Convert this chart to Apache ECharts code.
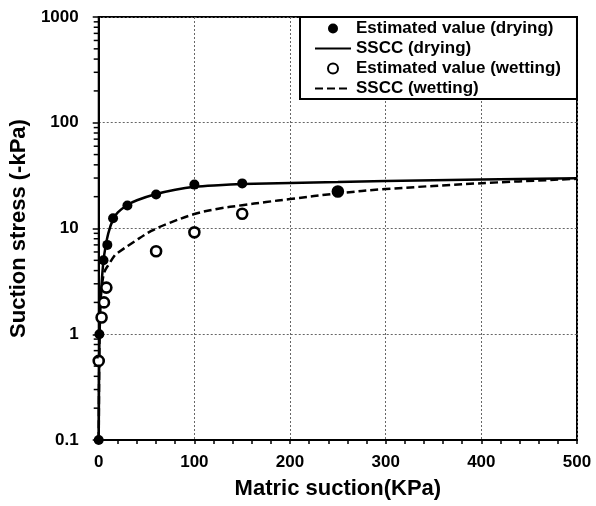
<!DOCTYPE html>
<html>
<head>
<meta charset="utf-8">
<script src="https://cdn.jsdelivr.net/npm/echarts@6/dist/echarts.min.js"></script>
<style>html,body{margin:0;padding:0;background:#fff;}#chart{width:596px;height:506px;}</style>
</head>
<body>
<div id="chart"></div>
<script>
// Estimated values (drying) [matric suction, suction stress]
const dryingX = [0, 0.7, 5, 9, 15, 30, 60, 100, 150, 250];
const dryingY = [0.1, 1.0, 5.0, 7.0, 12.5, 16.5, 21.0, 26.0, 26.7, 22.4];
// Estimated values (wetting)
const wettingX = [0, 3, 5.5, 8, 60, 100, 150, 250];
const wettingY = [0.56, 1.44, 2.0, 2.76, 6.1, 9.2, 13.8, 22.4];
// SSCC (drying) curve samples
const ssccDryX = [0, 0.5, 1, 2, 3, 5, 7, 10, 15, 20, 30, 40, 60, 80, 100, 125, 150, 200, 250, 300, 400, 500];
const ssccDryY = [0.1, 0.6, 1.1, 2.0, 3.0, 5.0, 6.6, 9.0, 12.2, 14.2, 16.7, 18.5, 21.2, 23.3, 24.8, 25.7, 26.3, 27.0, 27.5, 28.1, 29.1, 29.9];
// SSCC (wetting) curve samples
const ssccWetX = [0, 0.5, 1, 2, 4, 6, 10, 17, 20, 37, 55, 73, 100, 125, 150, 175, 200, 250, 300, 400, 500];
const ssccWetY = [0.1, 0.5, 1.2, 2.2, 3.2, 3.9, 4.5, 5.6, 5.9, 7.5, 9.5, 11.2, 13.7, 15.4, 16.6, 17.8, 19.0, 21.5, 23.6, 26.8, 29.5];
// Tick labels / minor ticks of log y-axis
const yTicks = [0.1, 1, 10, 100, 1000];
const yMinorTicks = [0.2,0.3,0.4,0.5,0.6,0.7,0.8,0.9, 2,3,4,5,6,7,8,9, 20,30,40,50,60,70,80,90, 200,300,400,500,600,700,800,900];
const legendNames = ['Estimated value (drying)', 'SSCC (drying)', 'Estimated value (wetting)', 'SSCC (wetting)'];

const zip = (xs, ys) => xs.map((x, i) => [x, ys[i]]);
const FONT = '"Liberation Sans", Arial, sans-serif';

const chart = echarts.init(document.getElementById('chart'), null, {renderer: 'canvas'});
const gridLine = {show: true, lineStyle: {color: '#666', width: 1, type: [2, 2]}};
const hiddenSym = {color: 'rgba(0,0,0,0)', borderColor: 'rgba(0,0,0,0)', borderWidth: 0};

chart.setOption({
  animation: false,
  backgroundColor: '#fff',
  textStyle: {fontFamily: FONT},
  grid: {left: 97, right: 19, top: 17, bottom: 66, show: true, borderColor: '#000', borderWidth: 2, containLabel: false},
  legend: {
    data: [
      {name: legendNames[0]},
      {name: legendNames[1], itemStyle: hiddenSym},
      {name: legendNames[2]},
      {name: legendNames[3], itemStyle: hiddenSym}
    ],
    orient: 'vertical',
    left: 300, top: 17,
    align: 'left',
    itemWidth: 36, itemHeight: 10, itemGap: 3,
    padding: [3, 16, 2, 14],
    borderColor: '#000', borderWidth: 2,
    backgroundColor: '#fff',
    textStyle: {fontFamily: FONT, fontWeight: 'bold', fontSize: 17, color: '#000'}
  },
  xAxis: {
    type: 'value', min: 0, max: 500, interval: 100,
    name: 'Matric suction(KPa)', nameLocation: 'middle', nameGap: 38,
    nameTextStyle: {fontFamily: FONT, fontWeight: 'bold', fontSize: 22, color: '#000'},
    axisLine: {show: true, lineStyle: {color: '#000', width: 2}},
    axisTick: {show: true, length: 4, lineStyle: {color: '#000', width: 1.5}},
    minorTick: {show: true, splitNumber: 5, length: 4, lineStyle: {color: '#000', width: 1.5}},
    axisLabel: {margin: 14, fontFamily: FONT, fontWeight: 'bold', fontSize: 17, color: '#000'},
    splitLine: gridLine
  },
  yAxis: {
    type: 'log', logBase: 10, min: 0.1, max: 1000,
    name: 'Suction stress (-kPa)', nameLocation: 'middle', nameGap: 60,
    nameTextStyle: {fontFamily: FONT, fontWeight: 'bold', fontSize: 22, color: '#000'},
    axisLine: {show: true, lineStyle: {color: '#000', width: 2}},
    axisTick: {show: true, length: 6, lineStyle: {color: '#000', width: 1.5}},
    axisLabel: {margin: 20, fontFamily: FONT, fontWeight: 'bold', fontSize: 17, color: '#000',
      formatter: v => { const t = yTicks.find(k => Math.abs(k - v) < 1e-9 * Math.max(1, k)); return t !== undefined ? String(t) : ''; }},
    splitLine: gridLine
  },
  series: [
    {
      name: 'Estimated value (drying)', type: 'scatter', z: 5, clip: false,
      symbol: 'circle', symbolSize: 10,
      itemStyle: {color: '#000', opacity: 1},
      data: zip(dryingX, dryingY)
    },
    {
      name: 'SSCC (drying)', type: 'line', z: 3, symbol: 'none', showSymbol: false,
      smooth: 0.35,
      lineStyle: {color: '#000', width: 2.5, type: 'solid'},
      itemStyle: {color: '#000'},
      data: zip(ssccDryX, ssccDryY)
    },
    {
      name: 'Estimated value (wetting)', type: 'scatter', z: 4, clip: false,
      symbol: 'circle', symbolSize: 10,
      itemStyle: {color: '#fff', borderColor: '#000', borderWidth: 2.6, opacity: 1},
      data: zip(wettingX, wettingY)
    },
    {
      name: 'SSCC (wetting)', type: 'line', z: 2, symbol: 'none', showSymbol: false,
      smooth: 0.35,
      lineStyle: {color: '#000', width: 2.5, type: [8, 4]},
      itemStyle: {color: '#000'},
      data: zip(ssccWetX, ssccWetY)
    },
    {
      name: 'minorTicks', type: 'custom', silent: true, z: 6,
      data: yMinorTicks.map(v => [0, v]),
      renderItem: (params, api) => {
        const p = api.coord([0, api.value(1)]);
        return {type: 'line', shape: {x1: p[0] - 5, y1: p[1], x2: p[0], y2: p[1]},
                style: {stroke: '#000', lineWidth: 1.5}};
      }
    }
  ]
});
</script>
</body>
</html>
